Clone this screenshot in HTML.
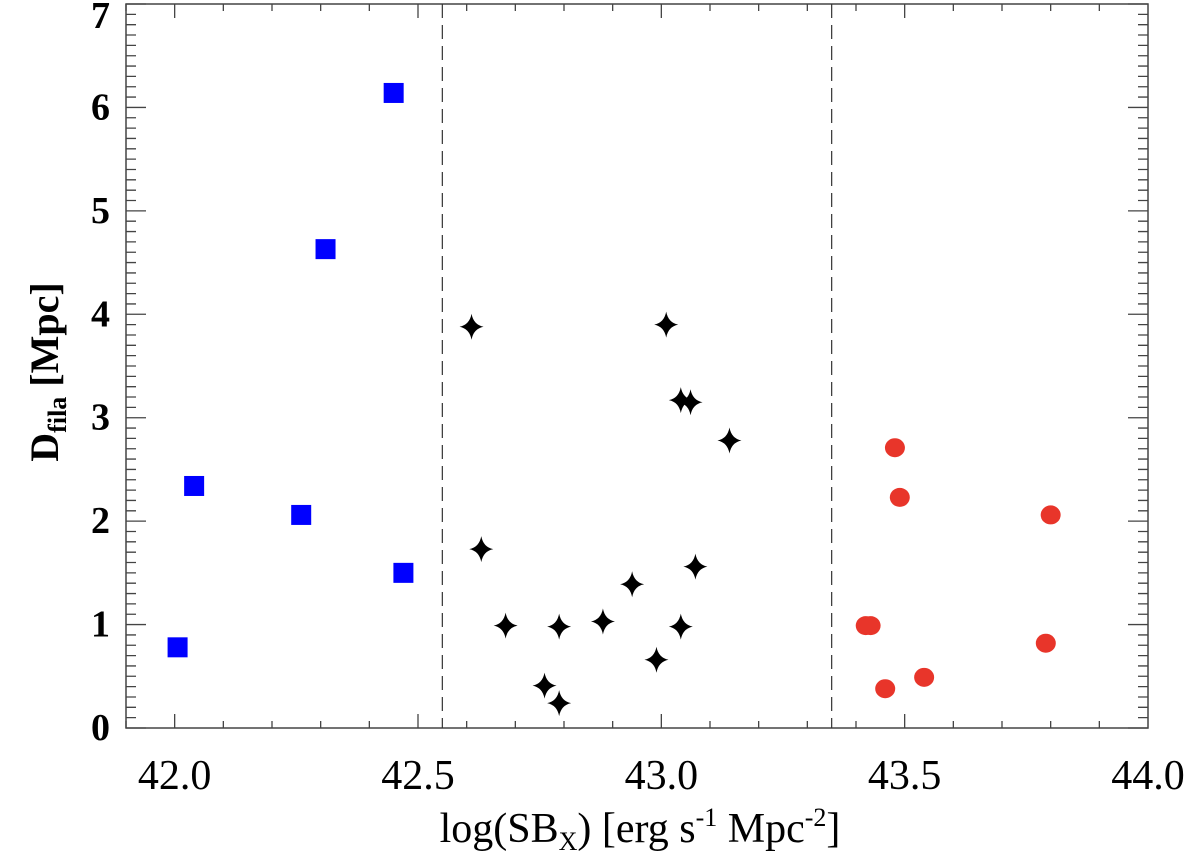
<!DOCTYPE html>
<html><head><meta charset="utf-8"><style>
body{margin:0;background:#fff;}
svg text{font-family:"Liberation Serif",serif;fill:#000;}
</style></head><body>
<svg id="chart" width="1200" height="859">
<g id="axes"></g><g id="marks"></g>
<text x="640" y="842" font-size="42" text-anchor="middle">log(SB<tspan font-size="26" dy="8">X</tspan><tspan dy="-8">) [erg s</tspan><tspan font-size="26" dy="-16">-1</tspan><tspan dy="16"> Mpc</tspan><tspan font-size="26" dy="-16">-2</tspan><tspan dy="16">]</tspan></text>
<text transform="translate(58,372) rotate(-90)" font-size="40" text-anchor="middle" font-weight="bold">D<tspan font-size="26" dy="8">fila</tspan><tspan dy="-8"> [Mpc]</tspan></text>
</svg>
<script>
const xTicks=[42.0,42.5,43.0,43.5,44.0];
const xTickLabels=["42.0","42.5","43.0","43.5","44.0"];
const yTicks=[0,1,2,3,4,5,6,7];
const yTickLabels=["0","1","2","3","4","5","6","7"];
const dividers=[42.55,43.35];
const blueX=[42.006,42.04,42.26,42.31,42.45,42.47];
const blueY=[0.78,2.34,2.06,4.63,6.14,1.50];
const starX=[42.61,42.63,42.68,42.76,42.79,42.79,42.88,42.94,42.99,43.01,43.04,43.04,43.06,43.07,43.14];
const starY=[3.88,1.73,0.99,0.41,0.98,0.24,1.03,1.39,0.66,3.90,3.17,0.98,3.15,1.56,2.78];
const redX=[43.42,43.43,43.48,43.49,43.46,43.54,43.79,43.80];
const redY=[0.99,0.99,2.71,2.23,0.38,0.49,0.82,2.06];

const L=126,R=1148,T=4,B=728;
const xmin=41.9,xmax=44.0,ymin=0,ymax=7;
const sx=v=>L+(v-xmin)/(xmax-xmin)*(R-L);
const sy=v=>B-(v-ymin)/(ymax-ymin)*(B-T);
const NS="http://www.w3.org/2000/svg";
const axes=document.getElementById('axes'),marks=document.getElementById('marks');
function mk(tag,attrs,parent){const e=document.createElementNS(NS,tag);for(const k in attrs)e.setAttribute(k,attrs[k]);parent.appendChild(e);return e;}

const frame=mk('rect',{x:L,y:T,width:R-L,height:B-T,fill:'none',stroke:'#444','stroke-width':1.5},axes);


let tp='';
for(let i=0;i<=20;i++){const v=xmin+i*0.1;const x=sx(v);const major=Math.abs(((v-42)*2)-Math.round((v-42)*2))<1e-6;const len=major?14:7;tp+=`M${x},${B}v${-len}M${x},${T}v${len}`;}
for(let i=0;i<=70;i++){const v=i*0.1;const y=sy(v);const len=(i%10===0)?20:10;tp+=`M${L},${y}h${len}M${R},${y}h${-len}`;}
const ticks=mk('path',{d:tp,stroke:'#444','stroke-width':1.3,fill:'none'},axes);


xTicks.forEach((v,i)=>{const t=mk('text',{x:sx(v),y:789,'font-size':42,'text-anchor':'middle'},axes);t.textContent=xTickLabels[i];

});
yTicks.forEach((v,i)=>{const t=mk('text',{x:110,y:Math.max(sy(v)+12,28),'font-size':38,'text-anchor':'end','font-weight':'bold'},axes);t.textContent=yTickLabels[i];

});
dividers.forEach(v=>{const l=mk('line',{x1:sx(v),x2:sx(v),y1:T,y2:B,stroke:'#333','stroke-width':1.2,'stroke-dasharray':'14,7'},axes);

});
blueX.forEach((v,i)=>{const s=mk('rect',{x:sx(v)-10,y:sy(blueY[i])-10,width:20,height:20,fill:'#0000ff'},marks);

});
starX.forEach((v,i)=>{const x=sx(v),y=sy(starY[i]);const p=mk('path',{d:`M${x},${y-13}Q${x+2},${y-2} ${x+12},${y}Q${x+2},${y+2} ${x},${y+13}Q${x-2},${y+2} ${x-12},${y}Q${x-2},${y-2} ${x},${y-13}Z`,fill:'#000'},marks);

});
redX.forEach((v,i)=>{const c=mk('ellipse',{cx:sx(v),cy:sy(redY[i]),rx:10,ry:9.5,fill:'#e8352a'},marks);

});
</script>
</body></html>
